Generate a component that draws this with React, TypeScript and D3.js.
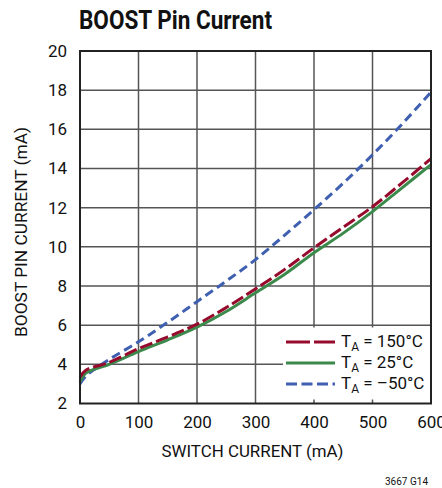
import { useEffect, useRef } from 'react';
import * as d3 from 'd3';

// Switch current (mA) sample points
const SWITCH_MA = [0, 10, 50, 100, 150, 200, 250, 300, 350, 400, 450, 500, 550, 600];
// Boost pin current (mA) per temperature
const BOOST_150C = [3.35, 3.7, 4.1, 4.8, 5.4, 6.05, 6.9, 7.85, 8.85, 9.95, 11.0, 12.05, 13.25, 14.5];
const BOOST_25C = [3.1, 3.55, 4.0, 4.65, 5.25, 5.9, 6.7, 7.65, 8.6, 9.7, 10.7, 11.8, 13.0, 14.2];
const BOOST_M50C = [3.0, 3.4, 4.25, 5.15, 6.15, 7.2, 8.25, 9.35, 10.6, 11.9, 13.25, 14.7, 16.25, 17.9];

const X_TICKS = [0, 100, 200, 300, 400, 500, 600];
const Y_TICKS = [2, 4, 6, 8, 10, 12, 14, 16, 18, 20];

const SERIES = [
  { label: '150°C', values: BOOST_150C, color: '#960A2C', dash: '13 4', legendDash: '24 4' },
  { label: '25°C', values: BOOST_25C, color: '#3B8A4B', dash: null, legendDash: null },
  { label: '–50°C', values: BOOST_M50C, color: '#3F5FB0', dash: '9 5', legendDash: '11 4.5' },
];

const FONT = "Roboto, 'Liberation Sans', sans-serif";
const GRID = '#555555';

export default function App() {
  const ref = useRef<SVGSVGElement>(null);

  useEffect(() => {
    if (!ref.current) return;
    const svg = d3.select(ref.current);
    svg.selectAll('*').remove();

    const x = d3.scaleLinear().domain([0, 600]).range([80, 431]);
    const y = d3.scaleLinear().domain([2, 20]).range([403.5, 51]);

    // Title
    svg.append('text')
      .attr('x', 79).attr('y', 29)
      .attr('font-family', FONT)
      .attr('font-weight', 'bold')
      .attr('font-size', 26)
      .attr('textLength', 193)
      .attr('lengthAdjust', 'spacingAndGlyphs')
      .attr('fill', '#111')
      .text('BOOST Pin Current');

    // Grid
    const grid = svg.append('g').attr('stroke', GRID).attr('stroke-width', 1.5);
    grid.selectAll('line.v')
      .data(X_TICKS.slice(1, -1))
      .join('line')
      .attr('class', 'v')
      .attr('x1', d => x(d)).attr('x2', d => x(d))
      .attr('y1', y(2)).attr('y2', y(20));
    grid.selectAll('line.h')
      .data(Y_TICKS.slice(1, -1))
      .join('line')
      .attr('class', 'h')
      .attr('x1', x(0)).attr('x2', x(600))
      .attr('y1', d => y(d)).attr('y2', d => y(d));

    // Axes tick labels
    const xAxis = d3.axisBottom(x).tickValues(X_TICKS).tickSize(0).tickPadding(12);
    const gx = svg.append('g').attr('transform', `translate(0,${y(2)})`).call(xAxis);
    gx.select('.domain').remove();
    gx.selectAll('text')
      .attr('font-family', FONT).attr('font-size', 17).attr('fill', '#111');

    const yAxis = d3.axisLeft(y).tickValues(Y_TICKS).tickSize(0).tickPadding(13);
    const gy = svg.append('g').attr('transform', `translate(${x(0)},0)`).call(yAxis);
    gy.select('.domain').remove();
    gy.selectAll('text')
      .attr('font-family', FONT).attr('font-size', 17).attr('fill', '#111');

    // Axis titles
    svg.append('text')
      .attr('x', 252.5).attr('y', 457)
      .attr('text-anchor', 'middle')
      .attr('font-family', FONT).attr('font-size', 17).attr('fill', '#111')
      .attr('textLength', 182).attr('lengthAdjust', 'spacingAndGlyphs')
      .text('SWITCH CURRENT (mA)');
    svg.append('text')
      .attr('transform', `translate(27,232) rotate(-90)`)
      .attr('text-anchor', 'middle')
      .attr('font-family', FONT).attr('font-size', 17).attr('fill', '#111')
      .attr('textLength', 210).attr('lengthAdjust', 'spacingAndGlyphs')
      .text('BOOST PIN CURRENT (mA)');

    // Legend box (white, hides grid)
    svg.append('rect')
      .attr('x', 283).attr('y', 327.5)
      .attr('width', 147).attr('height', 72)
      .attr('fill', '#fff');

    // Curves
    const line = d3.line<number>()
      .x((_, i) => x(SWITCH_MA[i]))
      .y(d => y(d))
      .curve(d3.curveCatmullRom.alpha(0.5));

    const plot = svg.append('g');
    for (const s of [SERIES[2], SERIES[1], SERIES[0]]) {
      plot.append('path')
        .datum(s.values)
        .attr('d', line)
        .attr('fill', 'none')
        .attr('stroke', s.color)
        .attr('stroke-width', 3)
        .attr('stroke-dasharray', s.dash);
    }

    // Legend
    const legend = svg.append('g');
    SERIES.forEach((s, i) => {
      const ly = 342 + i * 21;
      legend.append('line')
        .attr('x1', 286).attr('x2', 335)
        .attr('y1', ly).attr('y2', ly)
        .attr('stroke', s.color).attr('stroke-width', 3)
        .attr('stroke-dasharray', s.legendDash);
      const t = legend.append('text')
        .attr('x', 341).attr('y', ly + 5)
        .attr('font-family', FONT).attr('font-size', 17).attr('fill', '#111');
      t.append('tspan').text('T');
      t.append('tspan').attr('font-size', 12).attr('dy', 4).text('A');
      t.append('tspan').attr('dy', -4).text(` = ${s.label}`);
    });

    // Frame
    svg.append('rect')
      .attr('x', x(0)).attr('y', y(20))
      .attr('width', x(600) - x(0)).attr('height', y(2) - y(20))
      .attr('fill', 'none').attr('stroke', '#222').attr('stroke-width', 2);

    // Figure id
    svg.append('text')
      .attr('x', 428).attr('y', 485)
      .attr('text-anchor', 'end')
      .attr('font-family', FONT).attr('font-size', 10).attr('fill', '#111')
      .text('3667 G14');
  }, []);

  return (
    <div style={{ position: 'absolute', left: 0, top: 0, background: '#fff' }}>
      <svg ref={ref} width={442} height={488} style={{ display: 'block' }} />
    </div>
  );
}
